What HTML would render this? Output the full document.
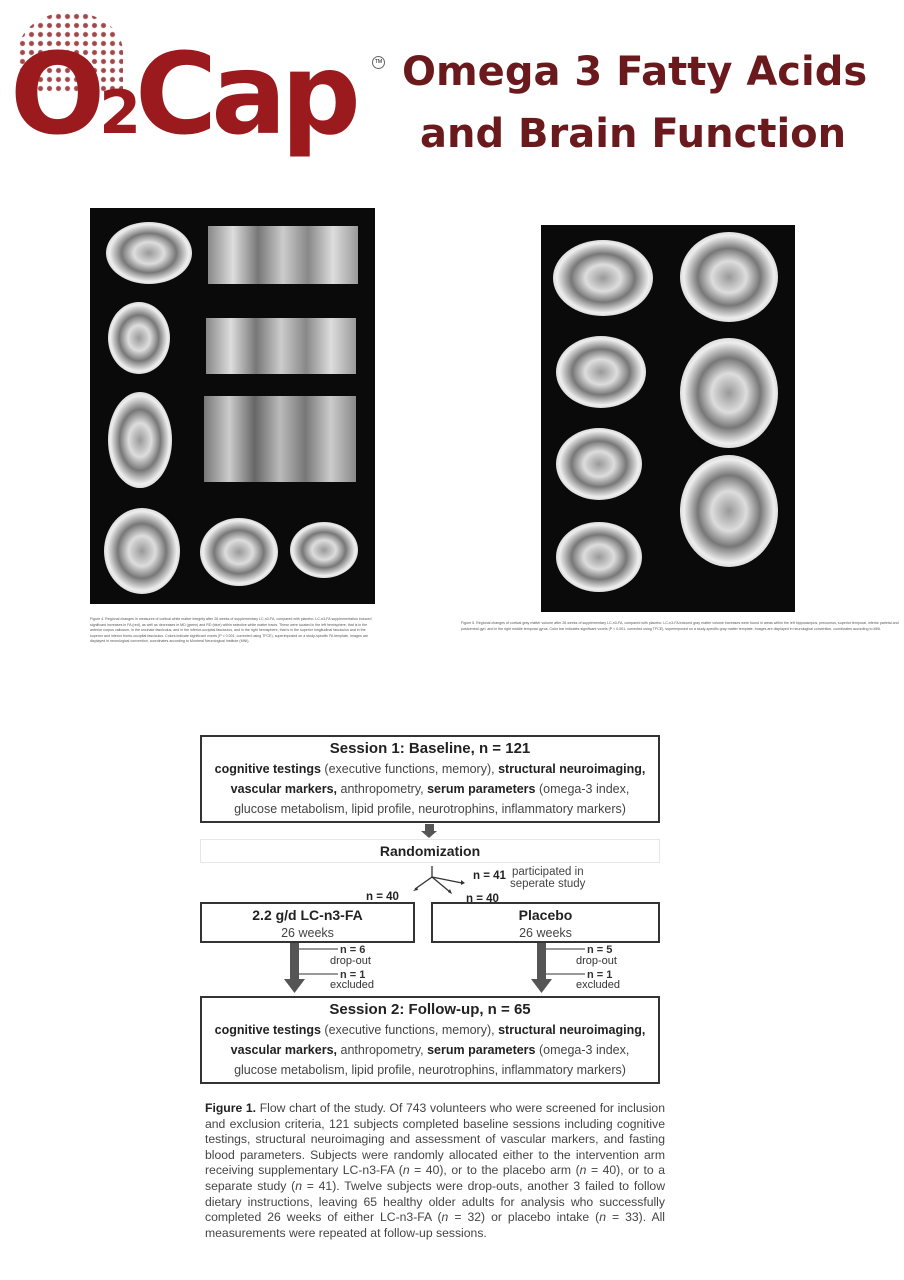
<!DOCTYPE html>
<html><head><meta charset="utf-8"><style>
body{margin:0;width:904px;height:1280px;background:#fff;position:relative;font-family:"Liberation Sans",sans-serif;overflow:hidden}
.a{position:absolute}
.t{font-family:"DejaVu Sans","Liberation Sans",sans-serif;font-weight:bold;color:#6a1a1c;font-size:40px;line-height:52px}
.box{position:absolute;border:2px solid #333;box-sizing:border-box;text-align:center;color:#444;font-size:12.5px;line-height:20px}
.box b{color:#222}
.cap{font-size:3.6px;line-height:5.5px;color:#555}
.br{position:absolute;border-radius:50%;background:radial-gradient(ellipse at center,#999 0%,#ddd 25%,#777 45%,#eee 65%,#bbb 82%,#333 100%)}
</style></head><body>
<!-- logo -->
<div class="a" style="left:18px;top:12px;width:105px;height:80px;background:radial-gradient(circle,#8b1a1e 2px,transparent 3px) 0 0/9px 9px;opacity:.8;border-radius:50% 50% 0 0"></div>
<div class="a" style="left:10px;top:30px;font-family:'DejaVu Sans',sans-serif;font-weight:bold;font-size:112px;line-height:130px;color:#9a1a1e;letter-spacing:-6px">O<span style="font-size:60px">2</span>Cap</div>
<div class="a" style="left:372px;top:56px;width:11px;height:11px;border:1px solid #666;border-radius:50%;font-size:5px;text-align:center;line-height:11px">TM</div>
<div class="a t" style="left:402px;top:46px">Omega 3 Fatty Acids</div>
<div class="a t" style="left:420px;top:108px">and Brain Function</div>

<!-- left brain panel -->
<div class="a" style="left:90px;top:208px;width:285px;height:396px;background:#0a0a0a"></div>
<div class="br" style="left:106px;top:222px;width:86px;height:62px"></div>
<div class="br" style="left:108px;top:302px;width:62px;height:72px"></div>
<div class="br" style="left:108px;top:392px;width:64px;height:96px"></div>
<div class="br" style="left:104px;top:508px;width:76px;height:86px"></div>
<div class="br" style="left:200px;top:518px;width:78px;height:68px"></div>
<div class="br" style="left:290px;top:522px;width:68px;height:56px"></div>
<div class="a" style="left:208px;top:226px;width:150px;height:58px;background:linear-gradient(90deg,#888,#ddd,#777,#ccc,#888,#ddd,#999)"></div>
<div class="a" style="left:206px;top:318px;width:150px;height:56px;background:linear-gradient(90deg,#888,#ddd,#777,#ccc,#888,#ddd,#999)"></div>
<div class="a" style="left:204px;top:396px;width:152px;height:86px;background:linear-gradient(90deg,#777,#ccc,#666,#bbb,#777,#ccc,#888)"></div>
<!-- right brain panel -->
<div class="a" style="left:541px;top:225px;width:254px;height:387px;background:#0a0a0a"></div>
<div class="br" style="left:553px;top:240px;width:100px;height:76px"></div>
<div class="br" style="left:680px;top:232px;width:98px;height:90px"></div>
<div class="br" style="left:556px;top:336px;width:90px;height:72px"></div>
<div class="br" style="left:680px;top:338px;width:98px;height:110px"></div>
<div class="br" style="left:556px;top:428px;width:86px;height:72px"></div>
<div class="br" style="left:680px;top:455px;width:98px;height:112px"></div>
<div class="br" style="left:556px;top:522px;width:86px;height:70px"></div>

<div class="a cap" style="left:90px;top:617px;width:285px">Figure 4. Regional changes in measures of cortical white matter integrity after 26 weeks of supplementary LC-n3-FA, compared with placebo. LC-n3-FA supplementation induced significant increases in FA (red), as well as decreases in MD (green) and RD (blue) within selective white matter tracts. These were located in the left hemisphere, that is in the anterior corpus callosum, in the uncinate fasciculus, and in the inferior-occipital fasciculus, and in the right hemisphere, that is in the superior longitudinal fasciculus and in the superior and inferior fronto-occipital fasciculus. Colors indicate significant voxels (P &lt; 0.001, corrected using TFCE), superimposed on a study-specific FA template. Images are displayed in neurological convention, coordinates according to Montreal Neurological Institute (MNI).</div>
<div class="a cap" style="left:461px;top:621px;width:440px">Figure 5. Regional changes of cortical gray matter volume after 26 weeks of supplementary LC-n3-FA, compared with placebo. LC-n3-FA induced gray matter volume increases were found in areas within the left hippocampus, precuneus, superior temporal, inferior parietal and postcentral gyri, and in the right middle temporal gyrus. Color bar indicates significant voxels (P &lt; 0.001, corrected using TFCE), superimposed on a study-specific gray matter template. Images are displayed in neurological convention, coordinates according to MNI.</div>

<!-- flowchart -->
<div class="box" style="left:200px;top:735px;width:460px;height:88px;padding-top:2px"><b style="font-size:15px">Session 1: Baseline, n = 121</b><br><b>cognitive testings</b> (executive functions, memory), <b>structural neuroimaging,</b><br><b>vascular markers,</b> anthropometry, <b>serum parameters</b> (omega-3 index,<br>glucose metabolism, lipid profile, neurotrophins, inflammatory markers)</div>
<div class="a" style="left:425px;top:824px;width:9px;height:7px;background:#555"></div>
<div class="a" style="left:421px;top:831px;width:0;height:0;border-left:8px solid transparent;border-right:8px solid transparent;border-top:7px solid #555"></div>
<div class="a" style="left:200px;top:839px;width:460px;height:24px;border:1px solid #e6e6e6;box-sizing:border-box;text-align:center;font-weight:bold;font-size:14px;line-height:22px;color:#222">Randomization</div>
<svg class="a" style="left:200px;top:860px" width="460" height="50">
<g stroke="#333" stroke-width="1.3" fill="none"><path d="M232 6 L232 17 L215 29"/><path d="M232 17 L262 23"/><path d="M232 17 L250 32"/></g>
<path d="M213 31 l4 -4 l1 3z M265 23 l-4 -3 l0 5z M252 34 l-4 -2 l2 -3z" fill="#333"/>
<g font-family="Liberation Sans" font-weight="bold" font-size="11.5" fill="#222"><text x="166" y="40">n = 40</text><text x="266" y="42">n = 40</text><text x="273" y="19">n = 41</text></g>
<g font-family="Liberation Sans" font-size="11.5" fill="#444"><text x="312" y="15">participated in</text><text x="310" y="27">seperate study</text></g>
</svg>
<div class="box" style="left:200px;top:902px;width:215px;height:41px;line-height:17px;padding-top:3px"><b style="font-size:14px">2.2 g/d LC-n3-FA</b><br>26 weeks</div>
<div class="box" style="left:431px;top:902px;width:229px;height:41px;line-height:17px;padding-top:3px"><b style="font-size:14px">Placebo</b><br>26 weeks</div>
<svg class="a" style="left:280px;top:943px" width="380" height="55">
<g fill="#555"><rect x="10" y="0" width="9" height="36"/><path d="M4 36 h21 l-10.5 14z"/><rect x="257" y="0" width="9" height="36"/><path d="M251 36 h21 l-10.5 14z"/></g>
<g stroke="#333" stroke-width="1"><path d="M19 6 H58 M19 31 H58 M266 6 H305 M266 31 H305"/></g>
<g font-family="Liberation Sans" font-size="11" fill="#333"><text x="60" y="10" font-weight="bold">n = 6</text><text x="50" y="21">drop-out</text><text x="60" y="35" font-weight="bold">n = 1</text><text x="50" y="45">excluded</text>
<text x="307" y="10" font-weight="bold">n = 5</text><text x="296" y="21">drop-out</text><text x="307" y="35" font-weight="bold">n = 1</text><text x="296" y="45">excluded</text></g>
</svg>
<div class="box" style="left:200px;top:996px;width:460px;height:88px;padding-top:2px"><b style="font-size:15px">Session 2: Follow-up, n = 65</b><br><b>cognitive testings</b> (executive functions, memory), <b>structural neuroimaging,</b><br><b>vascular markers,</b> anthropometry, <b>serum parameters</b> (omega-3 index,<br>glucose metabolism, lipid profile, neurotrophins, inflammatory markers)</div>
<div class="a" style="left:205px;top:1101px;width:460px;font-size:12.2px;line-height:15.6px;color:#444;text-align:justify"><b style="color:#222">Figure 1.</b> Flow chart of the study. Of 743 volunteers who were screened for inclusion and exclusion criteria, 121 subjects completed baseline sessions including cognitive testings, structural neuroimaging and assessment of vascular markers, and fasting blood parameters. Subjects were randomly allocated either to the intervention arm receiving supplementary LC-n3-FA (<i>n</i> = 40), or to the placebo arm (<i>n</i> = 40), or to a separate study (<i>n</i> = 41). Twelve subjects were drop-outs, another 3 failed to follow dietary instructions, leaving 65 healthy older adults for analysis who successfully completed 26 weeks of either LC-n3-FA (<i>n</i> = 32) or placebo intake (<i>n</i> = 33). All measurements were repeated at follow-up sessions.</div>
</body></html>
